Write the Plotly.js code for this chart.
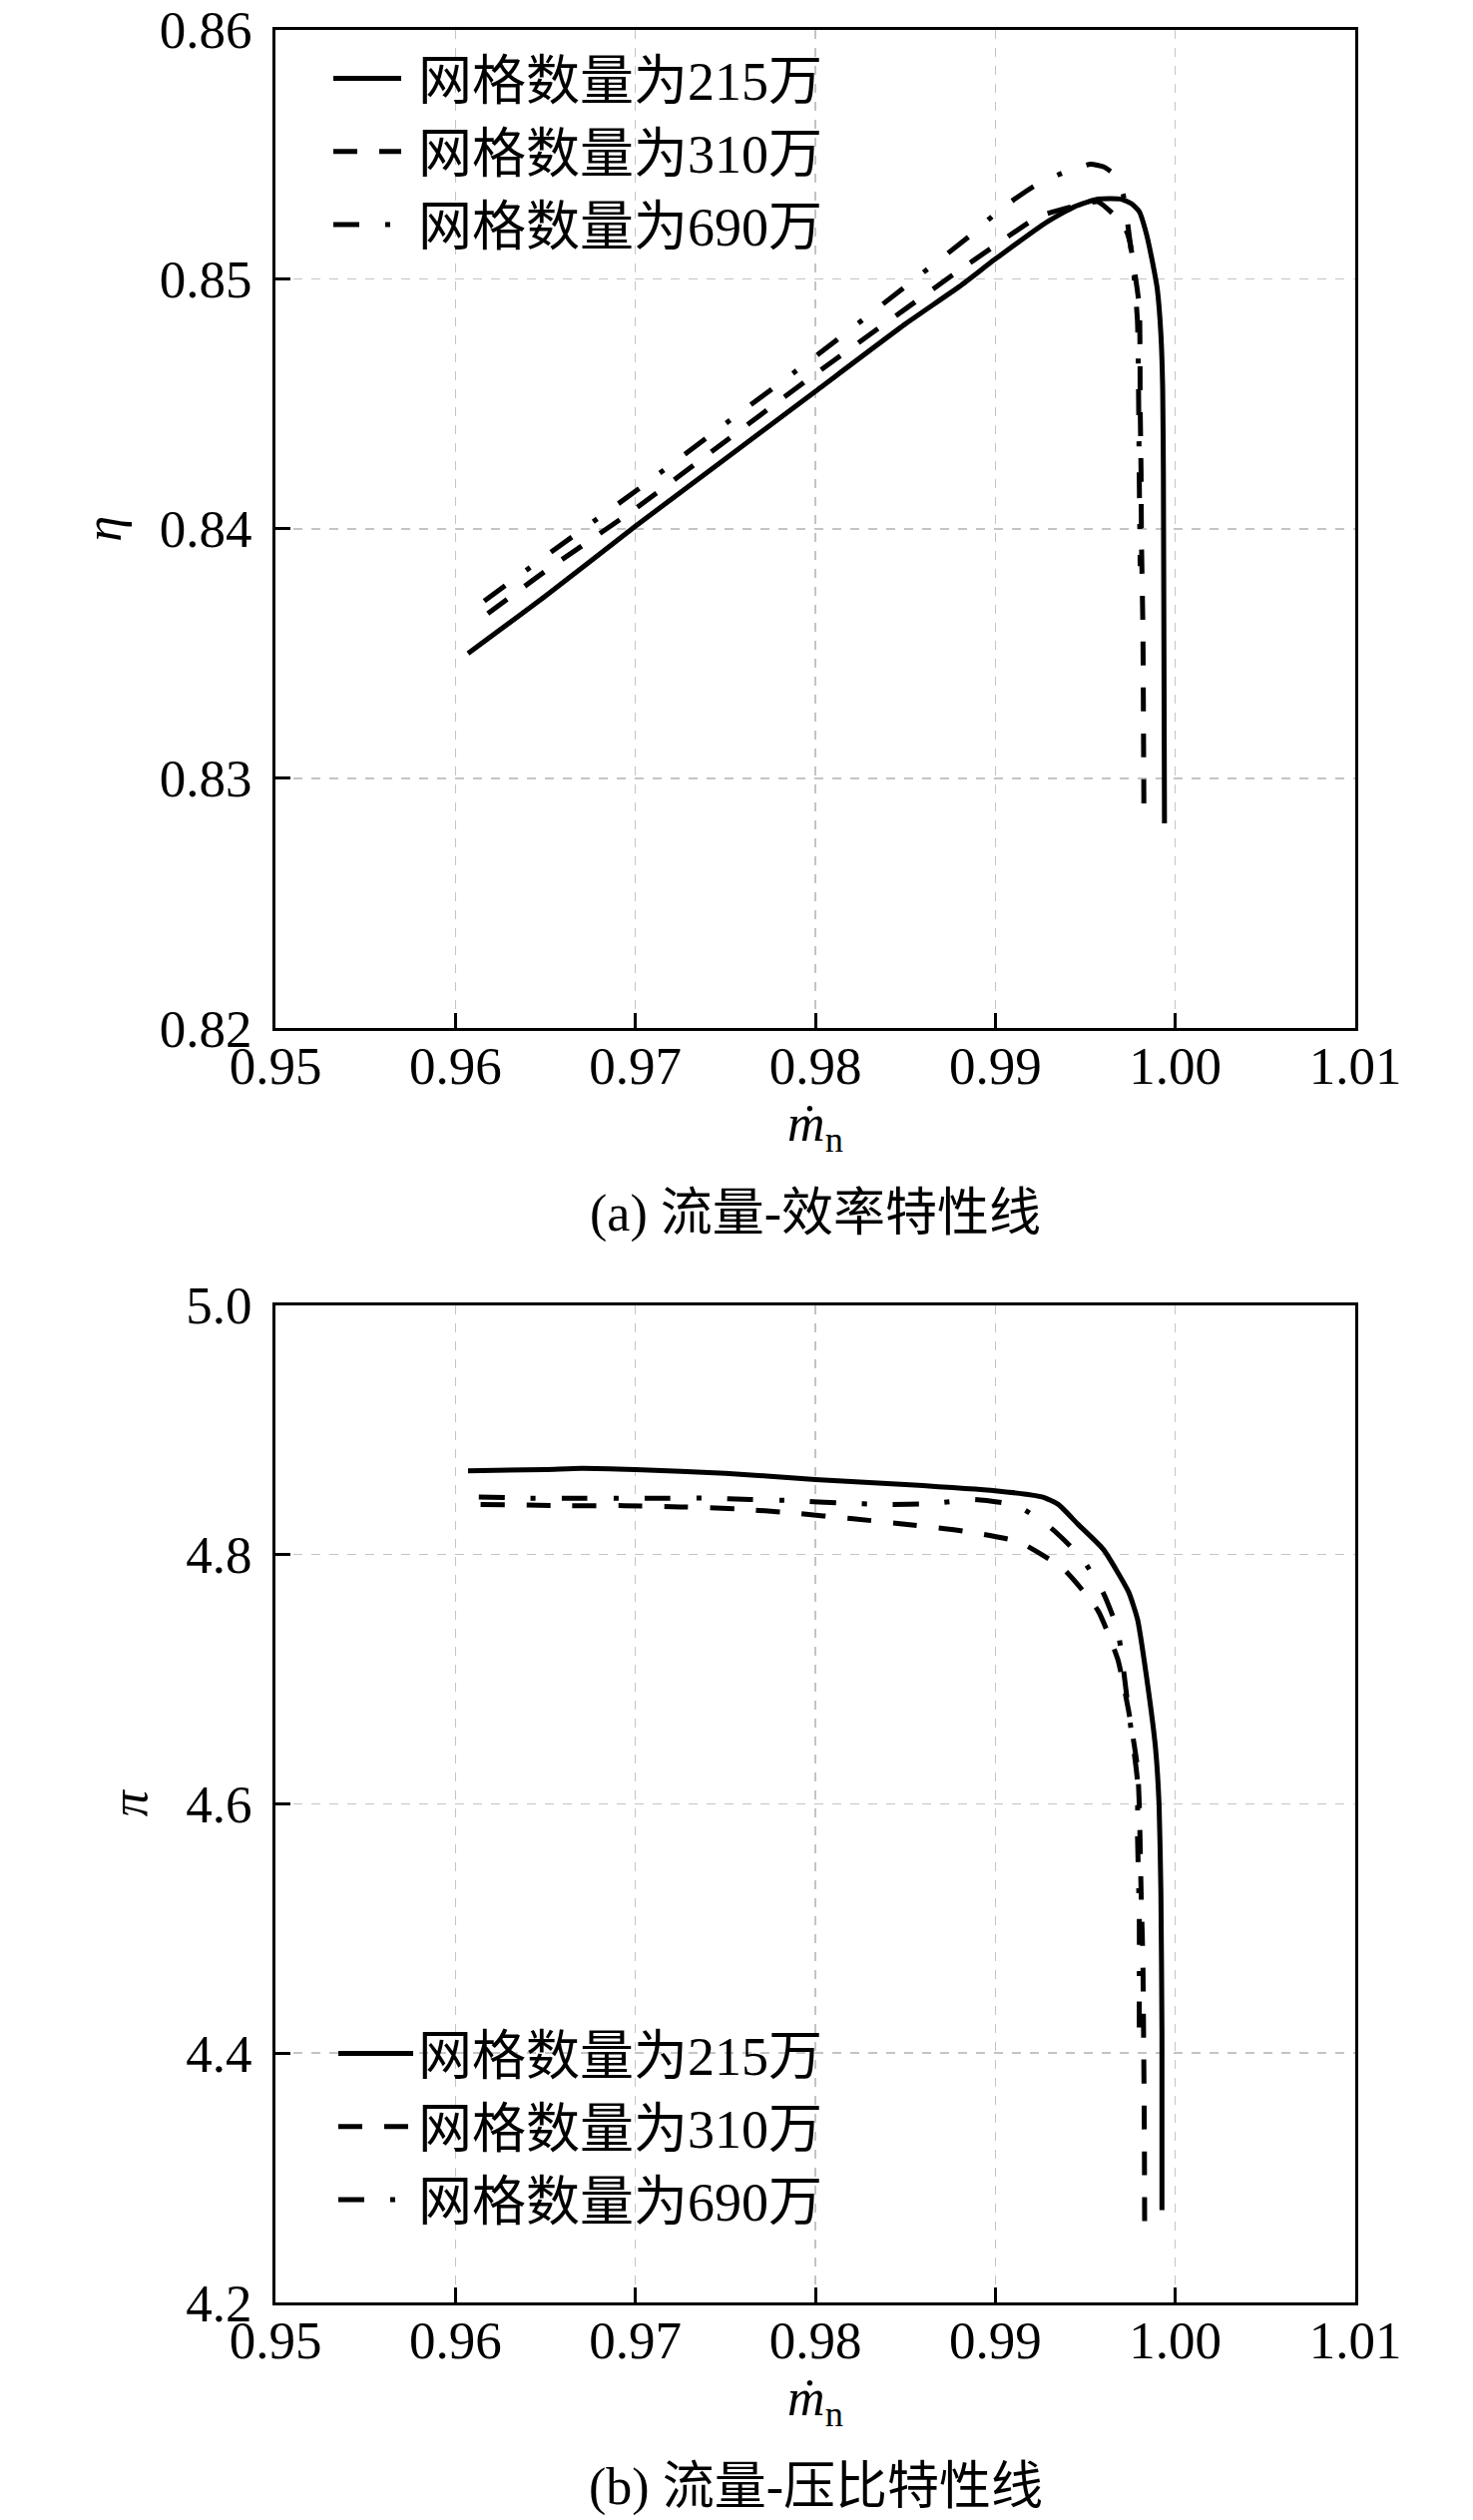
<!DOCTYPE html>
<html>
<head>
<meta charset="utf-8">
<script src="https://cdn.plot.ly/plotly-3.0.1.min.js"></script>
<style>body{margin:0;background:#fff;} #chart{width:1476px;height:2525px;}</style>
</head>
<body>
<div id="chart"></div>
<script>
// ---- Data: (a) mass flow vs efficiency ----
const seriesNames = ['网格数量为215万', '网格数量为310万', '网格数量为690万'];
const xTicks = [0.95, 0.96, 0.97, 0.98, 0.99, 1.00, 1.01];
const etaTicks = [0.82, 0.83, 0.84, 0.85, 0.86];
const piTicks = [4.2, 4.4, 4.6, 4.8, 5.0];

const mA215 = [0.9607, 0.9650, 0.9700, 0.9750, 0.9800, 0.9850, 0.9880, 0.9900, 0.9929, 0.9944, 0.9957, 0.9970, 0.9976, 0.9980, 0.9984, 0.9987, 0.9990, 0.9992, 0.9993, 0.99934, 0.9994];
const eta215 = [0.8350, 0.8373, 0.8401, 0.8428, 0.8455, 0.8482, 0.8497, 0.8508, 0.8523, 0.8529, 0.8532, 0.8532, 0.8530, 0.8527, 0.8518, 0.8508, 0.8496, 0.8478, 0.8456, 0.8422, 0.8282];

const mA310 = [0.9618, 0.9650, 0.9700, 0.9750, 0.9800, 0.9850, 0.9877, 0.9901, 0.9924, 0.9948, 0.9957, 0.9967, 0.9973, 0.9975, 0.9977, 0.9980, 0.99805, 0.9981, 0.99812, 0.9982, 0.99826];
const eta310 = [0.8366, 0.8383, 0.8408, 0.8435, 0.8462, 0.8488, 0.8502, 0.8514, 0.8525, 0.8530, 0.8531, 0.8525, 0.8519, 0.8514, 0.8505, 0.8489, 0.8449, 0.8422, 0.8396, 0.8360, 0.8282];

const mA690 = [0.9616, 0.9650, 0.9700, 0.9750, 0.9800, 0.9850, 0.9887, 0.9903, 0.9921, 0.9939, 0.9953, 0.9960, 0.9966, 0.9971, 0.99745, 0.9977, 0.9979, 0.99795, 0.9980, 0.99805];
const eta690 = [0.8371, 0.8389, 0.8415, 0.8442, 0.8469, 0.8497, 0.8518, 0.8528, 0.8537, 0.8543, 0.8546, 0.8545, 0.8542, 0.8534, 0.8517, 0.8502, 0.8483, 0.8462, 0.8420, 0.8385];

// ---- Data: (b) mass flow vs pressure ratio ----
const mB215 = [0.9607, 0.9650, 0.9670, 0.9700, 0.9750, 0.9800, 0.9850, 0.9900, 0.9926, 0.9935, 0.9946, 0.9960, 0.9974, 0.9979, 0.9984, 0.9989, 0.9991, 0.9992, 0.99926, 0.99926];
const pi215 = [4.867, 4.868, 4.869, 4.868, 4.865, 4.860, 4.856, 4.851, 4.846, 4.840, 4.824, 4.804, 4.770, 4.748, 4.702, 4.645, 4.599, 4.530, 4.415, 4.274];

const mB310 = [0.9614, 0.9664, 0.9694, 0.9725, 0.9756, 0.9788, 0.9821, 0.9851, 0.9882, 0.9913, 0.9938, 0.9957, 0.9968, 0.9974, 0.9979, 0.9980, 0.9981, 0.9982, 0.99825, 0.99828, 0.9983];
const pi310 = [4.840, 4.839, 4.839, 4.838, 4.8365, 4.833, 4.8285, 4.824, 4.8187, 4.810, 4.788, 4.755, 4.716, 4.675, 4.629, 4.599, 4.530, 4.473, 4.396, 4.339, 4.255];

const mB690 = [0.9613, 0.9641, 0.9665, 0.9691, 0.9715, 0.9740, 0.9764, 0.9789, 0.9815, 0.9839, 0.9864, 0.9888, 0.9912, 0.9931, 0.9948, 0.9960, 0.9968, 0.9974, 0.9979, 0.9979, 0.9980, 0.9980, 0.9980];
const pi690 = [4.846, 4.845, 4.845, 4.845, 4.845, 4.845, 4.844, 4.843, 4.841, 4.840, 4.8405, 4.844, 4.839, 4.821, 4.797, 4.769, 4.739, 4.675, 4.618, 4.576, 4.511, 4.448, 4.408];

const subTitles = ['(a) 流量-效率特性线', '(b) 流量-压比特性线'];

// ---- styles ----
const serif = 'Liberation Serif, Times New Roman, Noto Sans CJK SC, serif';
const legendFont = {family: serif, size: 54, color: '#000'};
const lw = 5;
const dashes = ['solid', '24px,22px', '26px,26px,5px,26px'];

function tr(x, y, i, xa, ya, leg) {
  return {x: x, y: y, mode: 'lines', name: seriesNames[i], xaxis: xa, yaxis: ya,
    legend: leg, showlegend: true,
    line: {color: '#000', width: lw, dash: dashes[i], shape: 'spline', smoothing: 0.5}};
}

const data = [
  tr(mA215, eta215, 0, 'x', 'y', 'legend'),
  tr(mA310, eta310, 1, 'x', 'y', 'legend'),
  tr(mA690, eta690, 2, 'x', 'y', 'legend'),
  tr(mB215, pi215, 0, 'x2', 'y2', 'legend2'),
  tr(mB310, pi310, 1, 'x2', 'y2', 'legend2'),
  tr(mB690, pi690, 2, 'x2', 'y2', 'legend2')
];

const H = 2525, W = 1476, L = 276, R = 118;
function xax(anchor) {
  return {range: [0.95, 1.01], tickvals: xTicks, tickformat: '.2f', anchor: anchor,
    showline: true, mirror: true, linecolor: '#000', linewidth: 3,
    ticks: 'inside', ticklen: 15, tickwidth: 3, tickcolor: '#000',
    showgrid: true, gridcolor: '#c4c4c4', griddash: 'dash', gridwidth: 1.5,
    zeroline: false, automargin: false, ticklabelstandoff: -11,
    tickfont: {family: serif, size: 53, color: '#000'},
    title: {text: '<i>ṁ</i><sub>n</sub>', font: {family: serif, size: 52, color: '#000'}, standoff: 6}};
}
function yax(anchor, dom, range, ticks, fmt, ttl, so) {
  return {domain: dom, range: range, tickvals: ticks, tickformat: fmt, anchor: anchor,
    showline: true, mirror: true, linecolor: '#000', linewidth: 3,
    ticks: 'inside', ticklen: 15, tickwidth: 3, tickcolor: '#000',
    showgrid: true, gridcolor: '#c4c4c4', griddash: 'dash', gridwidth: 1.5,
    zeroline: false, automargin: false, ticklabelstandoff: 10,
    tickfont: {family: serif, size: 53, color: '#000'},
    title: {text: '<i>' + ttl + '</i>', font: {family: serif, size: 52, color: '#000'}, standoff: so}};
}

const legX = (334 - L) / (W - L - R);
const layout = {
  width: W, height: H,
  margin: {l: L, r: R, t: 0, b: 0, pad: 0},
  paper_bgcolor: '#fff', plot_bgcolor: '#fff',
  xaxis: xax('y'),
  yaxis: yax('x', [1 - 1030 / H, 1 - 29.5 / H], [0.82, 0.86], etaTicks, '.2f', 'η', 22),
  xaxis2: xax('y2'),
  yaxis2: yax('x2', [1 - 2307 / H, 1 - 1307.5 / H], [4.2, 5.0], piTicks, '.1f', 'π', 22),
  legend: {x: legX, y: 1 - 37 / H, xanchor: 'left', yanchor: 'top',
    bgcolor: 'rgba(0,0,0,0)', borderwidth: 0, font: legendFont, tracegroupgap: 0, itemwidth: 75},
  legend2: {x: legX, y: 1 - 2016 / H, xanchor: 'left', yanchor: 'top',
    bgcolor: 'rgba(0,0,0,0)', borderwidth: 0, font: legendFont, tracegroupgap: 0, itemwidth: 75},
  annotations: [
    {text: subTitles[0], xref: 'paper', yref: 'paper', x: 0.5, y: 1 - 1216 / H, xanchor: 'center', yanchor: 'middle',
     showarrow: false, font: {family: serif, size: 52, color: '#000'}},
    {text: subTitles[1], xref: 'paper', yref: 'paper', x: 0.5, y: 1 - 2492 / H, xanchor: 'center', yanchor: 'middle',
     showarrow: false, font: {family: serif, size: 52, color: '#000'}}
  ],
  showlegend: true
};

Plotly.newPlot('chart', data, layout, {staticPlot: true, displayModeBar: false}).then(function (gd) {
  // lengthen the legend line samples to match the reference key
  gd.querySelectorAll('.legend .legendlines path').forEach(function (p) {
    p.setAttribute('d', 'M0,0h68');
  });
});
</script>
</body>
</html>
